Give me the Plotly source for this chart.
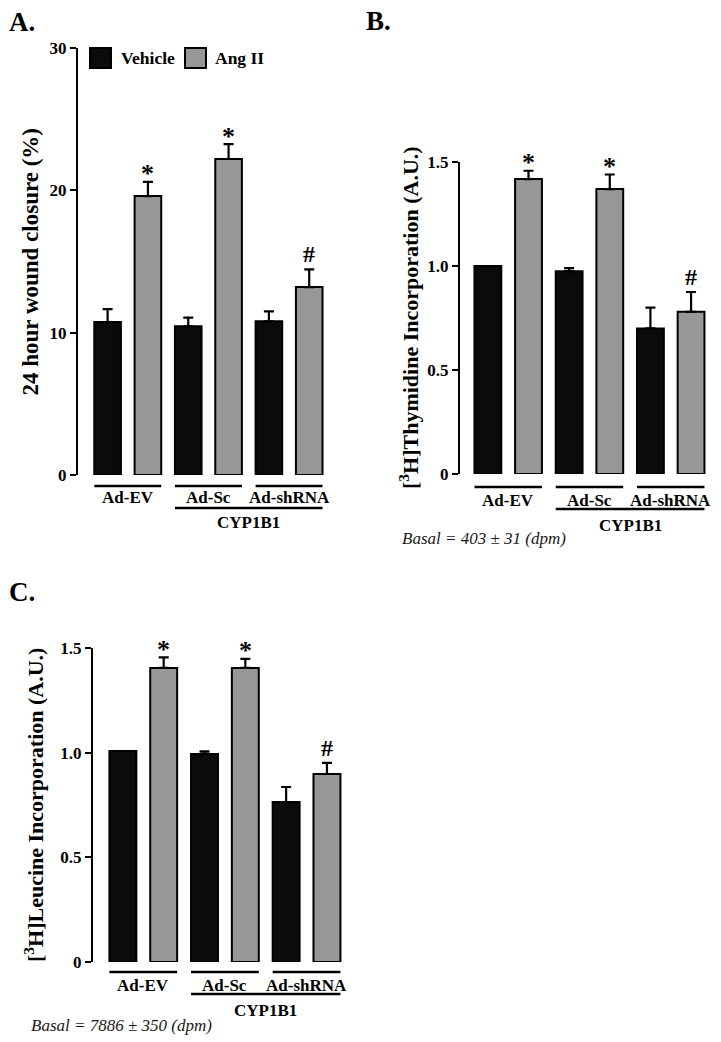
import plotly.graph_objects as go

# ---------------- data ----------------
groups = ["Ad-EV", "Ad-Sc", "Ad-shRNA"]
series_names = ["Vehicle", "Ang II"]

wound_vehicle = [10.75, 10.45, 10.8]
wound_vehicle_err = [0.9, 0.6, 0.7]
wound_angii = [19.6, 22.2, 13.2]
wound_angii_err = [1.0, 1.05, 1.25]

thy_vehicle = [1.0, 0.975, 0.70]
thy_vehicle_err = [0.0, 0.015, 0.10]
thy_angii = [1.418, 1.37, 0.78]
thy_angii_err = [0.04, 0.07, 0.095]

leu_vehicle = [1.008, 0.994, 0.764]
leu_vehicle_err = [0.0, 0.012, 0.072]
leu_angii = [1.405, 1.405, 0.898]
leu_angii_err = [0.05, 0.043, 0.053]

angii_marks = ["*", "*", "#"]

wound_ticks = [0, 10, 20, 30]
wound_ticktext = ["0", "10", "20", "30"]
frac_ticks = [0, 0.5, 1.0, 1.5]
frac_ticktext = ["0", "0.5", "1.0", "1.5"]

# ---------------- style / layout ----------------
W, H = 721, 1042
FONT = "Liberation Serif"
VEH_COLOR = "#0b0b0b"
ANG_COLOR = "#979797"
BGG = 0.34
HALF = 0.5 - BGG / 4.0  # half extent of a group of two bars


def fx(p):
    return p / W


def fy(p):
    return 1 - p / H


panels = [
    dict(key="", veh=wound_vehicle, veh_err=wound_vehicle_err, ang=wound_angii,
         ang_err=wound_angii_err, xdom=(78, 331), ydom=(48, 475), xr=[-0.617, 2.52],
         yr=[0, 30], tv=wound_ticks, tt=wound_ticktext,
         title="24 hour wound closure (%)", title_x=30, title_size=23,
         label="A.", label_xy=(7, 22), line_y=486, lab_y=498, cyp_line_y=508, cyp_y=522,
         basal=None),
    dict(key="2", veh=thy_vehicle, veh_err=thy_vehicle_err, ang=thy_angii,
         ang_err=thy_angii_err, xdom=(460, 713), ydom=(162, 474), xr=[-0.593, 2.52],
         yr=[0, 1.5], tv=frac_ticks, tt=frac_ticktext,
         title="[<sup>3</sup>H]Thymidine Incorporation (A.U.)", title_x=409, title_size=22,
         label="B.", label_xy=(364, 21), line_y=487, lab_y=500, cyp_line_y=509, cyp_y=525,
         basal=("Basal = 403 ± 31 (dpm)", 400, 538)),
    dict(key="3", veh=leu_vehicle, veh_err=leu_vehicle_err, ang=leu_angii,
         ang_err=leu_angii_err, xdom=(93, 349), ydom=(648, 962), xr=[-0.616, 2.52],
         yr=[0, 1.5], tv=frac_ticks, tt=frac_ticktext,
         title="[<sup>3</sup>H]Leucine Incorporation (A.U.)", title_x=34, title_size=22,
         label="C.", label_xy=(7, 592), line_y=972, lab_y=985, cyp_line_y=994, cyp_y=1010,
         basal=("Basal = 7886 ± 350 (dpm)", 29, 1025)),
]

fig = go.Figure()
annotations = []
shapes = []
layout_axes = {}

for p in panels:
    k = p["key"]
    xa, ya = "x" + k, "y" + k
    fig.add_trace(go.Bar(
        x=groups, y=p["veh"], name=series_names[0], xaxis=xa, yaxis=ya,
        marker=dict(color=VEH_COLOR, line=dict(color="black", width=2)),
        error_y=dict(type="data", array=p["veh_err"], arrayminus=[0] * len(groups),
                     symmetric=False, color="black", thickness=2.2, width=5),
        showlegend=False))
    fig.add_trace(go.Bar(
        x=groups, y=p["ang"], name=series_names[1], xaxis=xa, yaxis=ya,
        marker=dict(color=ANG_COLOR, line=dict(color="black", width=2)),
        error_y=dict(type="data", array=p["ang_err"], arrayminus=[0] * len(groups),
                     symmetric=False, color="black", thickness=2.2, width=5),
        showlegend=False))

    layout_axes["xaxis" + k] = dict(
        domain=[fx(p["xdom"][0]), fx(p["xdom"][1])], range=p["xr"], anchor=ya,
        visible=False, type="category", categoryorder="array", categoryarray=groups,
        automargin=False)
    layout_axes["yaxis" + k] = dict(
        domain=[fy(p["ydom"][1]), fy(p["ydom"][0])], range=p["yr"], anchor=xa,
        showline=True, linecolor="black", linewidth=2.2, ticks="outside", ticklen=6,
        tickwidth=2.2, tickcolor="black", tickvals=p["tv"], ticktext=p["tt"],
        showgrid=False, zeroline=False, automargin=False,
        tickfont=dict(family=FONT, size=17, color="black", weight="bold"))

    # significance marks
    for i, (v, e, m) in enumerate(zip(p["ang"], p["ang_err"], angii_marks)):
        annotations.append(dict(
            x=i + 0.25, y=v + e, xref=xa, yref=ya, text=m, showarrow=False,
            yanchor="middle", yshift=(8 if m == "*" else 15),
            font=dict(family=FONT, size=26 if m == "*" else 24, color="black", weight="bold")))

    # group underlines and labels
    for i, g in enumerate(groups):
        shapes.append(dict(type="line", xref=xa, yref="paper", x0=i - HALF, x1=i + HALF,
                           y0=fy(p["line_y"]), y1=fy(p["line_y"]),
                           line=dict(color="black", width=2.5)))
        annotations.append(dict(x=i, y=fy(p["lab_y"]), xref=xa, yref="paper", text=g,
                                showarrow=False, xanchor="center", yanchor="middle",
                                font=dict(family=FONT, size=17, color="black", weight="bold")))
    shapes.append(dict(type="line", xref=xa, yref="paper", x0=1 - HALF, x1=2 + HALF,
                       y0=fy(p["cyp_line_y"]), y1=fy(p["cyp_line_y"]),
                       line=dict(color="black", width=2.5)))
    annotations.append(dict(x=1.5, y=fy(p["cyp_y"]), xref=xa, yref="paper", text="CYP1B1",
                            showarrow=False, xanchor="center", yanchor="middle",
                            font=dict(family=FONT, size=17, color="black", weight="bold")))

    # y-axis title
    annotations.append(dict(x=fx(p["title_x"]), y=fy((p["ydom"][0] + p["ydom"][1]) / 2),
                            xref="paper", yref="paper", text=p["title"], textangle=-90,
                            showarrow=False, xanchor="center", yanchor="middle",
                            font=dict(family=FONT, size=p["title_size"], color="black",
                                      weight="bold")))
    # panel label
    annotations.append(dict(x=fx(p["label_xy"][0]), y=fy(p["label_xy"][1]), xref="paper",
                            yref="paper", text=p["label"], showarrow=False,
                            xanchor="left", yanchor="middle",
                            font=dict(family=FONT, size=27, color="black", weight="bold")))
    if p["basal"]:
        txt, bx, by = p["basal"]
        annotations.append(dict(x=fx(bx), y=fy(by), xref="paper", yref="paper",
                                text="<i>" + txt + "</i>", showarrow=False,
                                xanchor="left", yanchor="middle",
                                font=dict(family=FONT, size=17, color="#1a1a1a")))

# manual legend (panel A)
legend_items = [(series_names[0], VEH_COLOR, 90, 119), (series_names[1], ANG_COLOR, 185, 213)]
for name, col, bx, tx in legend_items:
    shapes.append(dict(type="rect", xref="paper", yref="paper", x0=fx(bx), x1=fx(bx + 21),
                       y0=fy(68), y1=fy(48), fillcolor=col,
                       line=dict(color="black", width=2)))
    annotations.append(dict(x=fx(tx), y=fy(58), xref="paper", yref="paper", text=name,
                            showarrow=False, xanchor="left", yanchor="middle",
                            font=dict(family=FONT, size=17.5, color="black", weight="bold")))

fig.update_layout(
    width=W, height=H, margin=dict(l=0, r=0, t=0, b=0, pad=0, autoexpand=False),
    paper_bgcolor="white", plot_bgcolor="white",
    barmode="group", bargap=0.0, bargroupgap=BGG,
    showlegend=False, annotations=annotations, shapes=shapes,
    **layout_axes)

fig.write_html(
    "out.html",
    config={"displayModeBar": False},
    post_script="document.body.style.margin='0';document.body.style.overflow='hidden';",
)
